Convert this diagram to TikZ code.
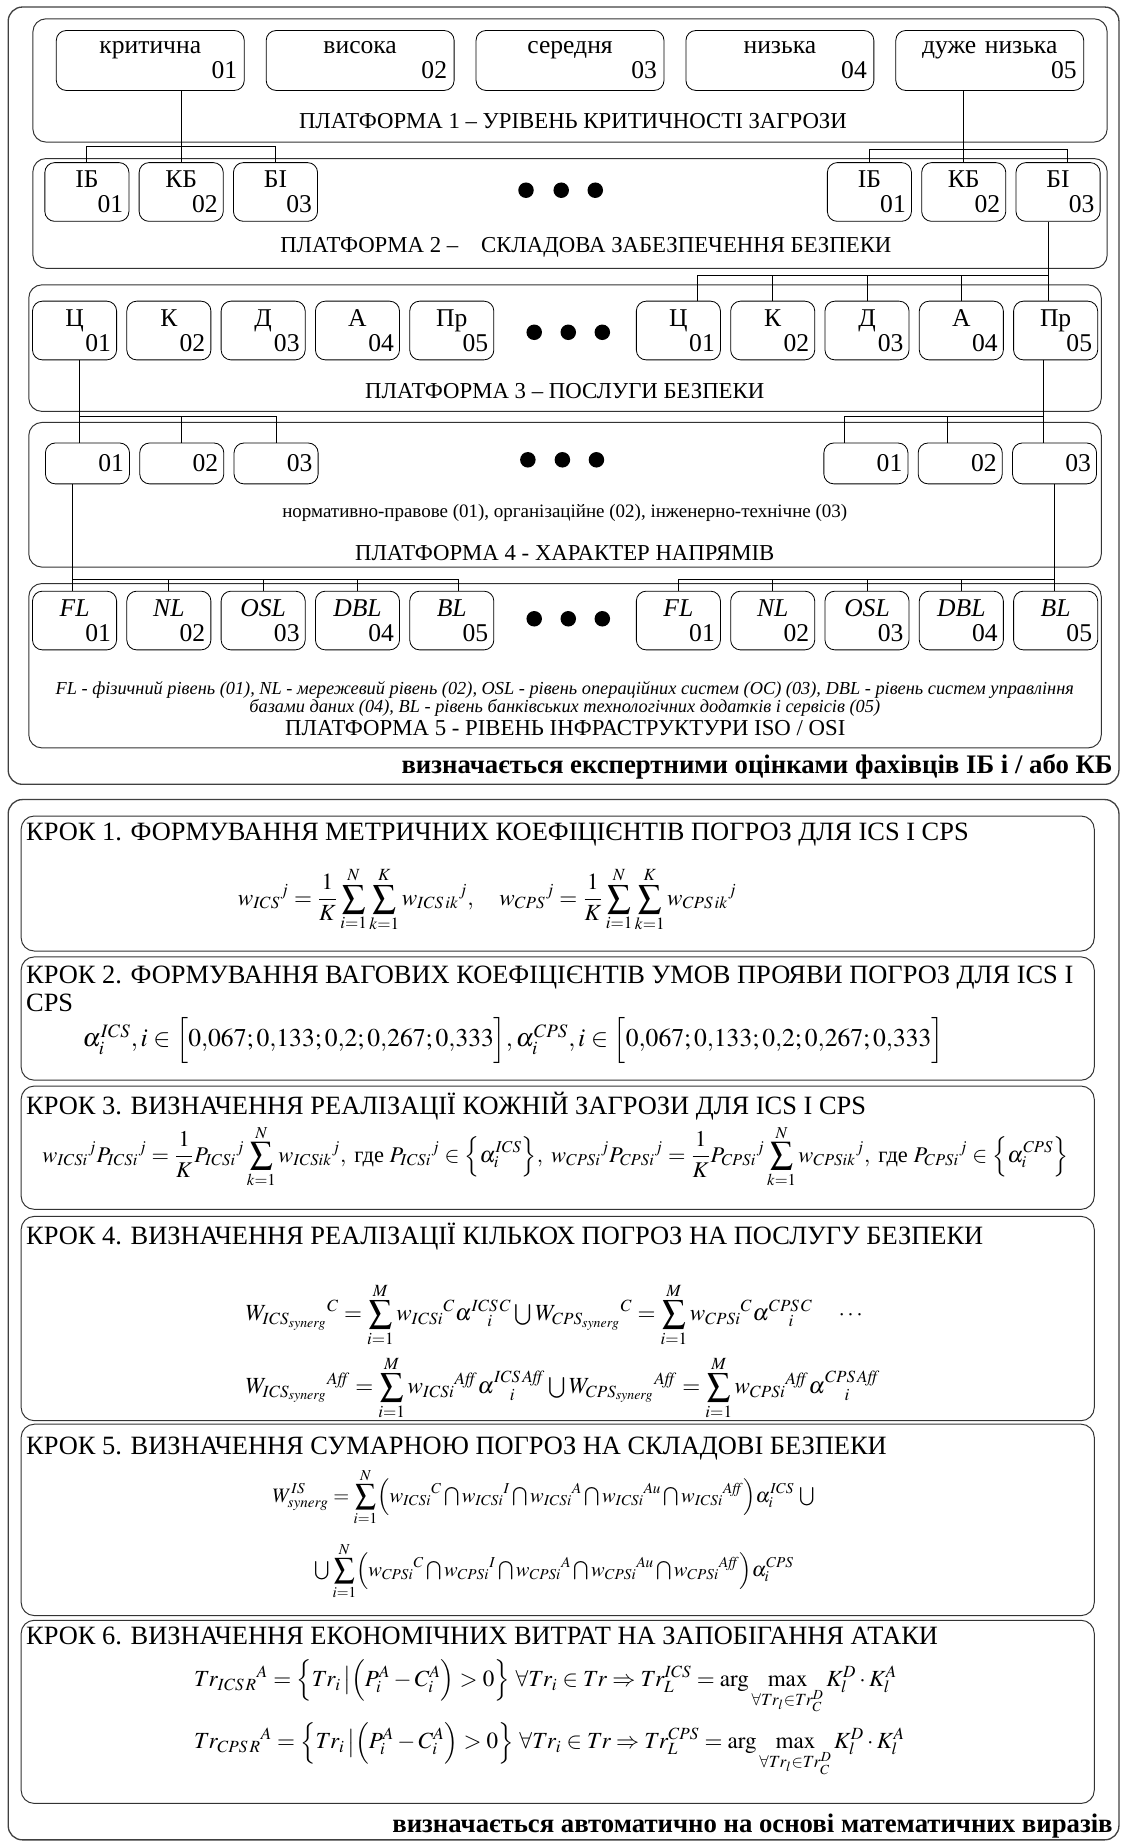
\documentclass[tikz,border=0pt]{standalone}
\usepackage{amsmath}
\usepackage{mathptmx}
\usepackage{fontspec}
\setmainfont{Liberation Serif}
\usepackage{graphicx}
\usetikzlibrary{positioning}

\newcommand{\twoline}[2]{{\centering #1\par}{\raggedleft #2\par}}
\newcommand{\Ucup}{\mathbin{\textstyle\bigcup}}
\newcommand{\Icap}{\mkern2mu{\textstyle\bigcap}\mkern2mu}
\newcommand{\Aff}{\mathit{Aff}}

\begin{document}
\begin{tikzpicture}[
    x=0.025cm, y=-0.025cm,
    every node/.style={font=\fontsize{15.5}{15}\selectfont, inner sep=0pt},
    outer/.style={draw=black!75, line width=0.8pt, rounded corners=0.3cm},
    plat/.style={draw=black!80, line width=0.6pt, rounded corners=0.28cm},
    stepbox/.style={draw=black!80, line width=0.6pt, rounded corners=0.28cm},
    lvl/.style={draw, rounded corners=0.21cm, line width=0.5pt, minimum width=4cm, minimum height=1.275cm, text width=3.7cm, inner xsep=0.15cm, inner ysep=0pt},
    cell/.style={lvl, minimum width=1.79cm, minimum height=1.25cm, text width=1.55cm, inner xsep=0.12cm},
    dirbox/.style={cell, minimum height=0.87cm},
    dot/.style={circle, fill, inner sep=0pt, minimum size=0.33cm},
    ptitle/.style={font=\fontsize{13.8}{15}\selectfont},
    note/.style={font=\fontsize{11.5}{13}\selectfont},
    verdict/.style={font=\fontsize{16.2}{18}\selectfont\bfseries, anchor=east},
    ktitle/.style={font=\fontsize{16}{17}\selectfont, anchor=west, align=left},
    formula/.style={font=\fontsize{14}{17}\selectfont},
    link/.style={line width=0.6pt},
]
\useasboundingbox (0,0) rectangle (956,1568);

% ---------- expert part ----------
\draw[outer] (7,6) rectangle (953,668);
\draw[plat] (28,16) rectangle (943,121);
\draw[plat] (28,135) rectangle (943,228.5);
\draw[plat] (24.5,242.6) rectangle (938,350.4);
\draw[plat] (24.5,359.8) rectangle (938,483);
\draw[plat] (24.5,497) rectangle (938,637);

% platform 1
\node[lvl] (lv1) at (128,51.5) {\twoline{критична}{01}};
\node[lvl, right=0.45cm of lv1] (lv2) {\twoline{висока}{02}};
\node[lvl, right=0.45cm of lv2] (lv3) {\twoline{середня}{03}};
\node[lvl, right=0.45cm of lv3] (lv4) {\twoline{низька}{04}};
\node[lvl, right=0.45cm of lv4] (lv5) {\twoline{дуже низька}{05}};
\node[ptitle] (p1lab) at (488,103) {ПЛАТФОРМА 1 – УРІВЕНЬ КРИТИЧНОСТІ ЗАГРОЗИ};

% platform 2
\node[cell] (ibl) at (74,163.5) {\twoline{ІБ}{01}};
\node[cell, right=0.2cm of ibl] (kbl) {\twoline{КБ}{02}};
\node[cell, right=0.2cm of kbl] (bil) {\twoline{БІ}{03}};
\node[cell] (ibr) at (740.5,163.5) {\twoline{ІБ}{01}};
\node[cell, right=0.2cm of ibr] (kbr) {\twoline{КБ}{02}};
\node[cell, right=0.2cm of kbr] (bir) {\twoline{БІ}{03}};
\node[dot] (dots2a) at (448,162) {};
\node[dot] (dots2b) at (478,162) {};
\node[dot] (dots2c) at (507,162) {};
\node[ptitle] (p2lab) at (499,211) {ПЛАТФОРМА 2 –\quad СКЛАДОВА ЗАБЕЗПЕЧЕННЯ БЕЗПЕКИ};

% platform 3
\node[cell] (cl) at (63.5,281.5) {\twoline{Ц}{01}};
\node[cell, right=0.2cm of cl] (kl) {\twoline{К}{02}};
\node[cell, right=0.2cm of kl] (dl) {\twoline{Д}{03}};
\node[cell, right=0.2cm of dl] (al) {\twoline{А}{04}};
\node[cell, right=0.2cm of al] (prl) {\twoline{Пр}{05}};
\node[cell] (cr) at (577.8,281.5) {\twoline{Ц}{01}};
\node[cell, right=0.2cm of cr] (kr) {\twoline{К}{02}};
\node[cell, right=0.2cm of kr] (dr) {\twoline{Д}{03}};
\node[cell, right=0.2cm of dr] (ar) {\twoline{А}{04}};
\node[cell, right=0.2cm of ar] (prr) {\twoline{Пр}{05}};
\node[dot] (dots3a) at (455,283) {};
\node[dot] (dots3b) at (484,283) {};
\node[dot] (dots3c) at (513,283) {};
\node[ptitle] (p3lab) at (481,333) {ПЛАТФОРМА 3 – ПОСЛУГИ БЕЗПЕКИ};

% platform 4
\node[dirbox] (nl1) at (74.5,394.7) {{\raggedleft 01\par}};
\node[dirbox, right=0.2cm of nl1] (nl2) {{\raggedleft 02\par}};
\node[dirbox, right=0.2cm of nl2] (nl3) {{\raggedleft 03\par}};
\node[dirbox] (nr1) at (737.5,394.7) {{\raggedleft 01\par}};
\node[dirbox, right=0.2cm of nr1] (nr2) {{\raggedleft 02\par}};
\node[dirbox, right=0.2cm of nr2] (nr3) {{\raggedleft 03\par}};
\node[dot] (dots4a) at (449.6,391.6) {};
\node[dot] (dots4b) at (479,391.6) {};
\node[dot] (dots4c) at (508,391.6) {};
\node[note] (p4note) at (481,437) {нормативно-правове (01), організаційне (02), інженерно-технічне (03)};
\node[ptitle] (p4lab) at (481,471) {ПЛАТФОРМА 4 - ХАРАКТЕР НАПРЯМІВ};

% platform 5
\node[cell] (fll) at (63.5,528.5) {\twoline{\itshape FL}{01}};
\node[cell, right=0.2cm of fll] (nll) {\twoline{\itshape NL}{02}};
\node[cell, right=0.2cm of nll] (osll) {\twoline{\itshape OSL}{03}};
\node[cell, right=0.2cm of osll] (dbll) {\twoline{\itshape DBL}{04}};
\node[cell, right=0.2cm of dbll] (bll) {\twoline{\itshape BL}{05}};
\node[cell] (flr) at (577.8,528.5) {\twoline{\itshape FL}{01}};
\node[cell, right=0.2cm of flr] (nlr) {\twoline{\itshape NL}{02}};
\node[cell, right=0.2cm of nlr] (oslr) {\twoline{\itshape OSL}{03}};
\node[cell, right=0.2cm of oslr] (dblr) {\twoline{\itshape DBL}{04}};
\node[cell, right=0.2cm of dblr] (blr) {\twoline{\itshape BL}{05}};
\node[dot] (dots5a) at (455,527) {};
\node[dot] (dots5b) at (484,527) {};
\node[dot] (dots5c) at (513,527) {};
\node[note, align=center, font=\fontsize{11.1}{10.7}\selectfont\itshape] (p5note) at (481,595.5)
    {FL - фізичний рівень (01), NL - мережевий рівень (02), OSL - рівень операційних систем (ОС) (03), DBL - рівень систем управління\\
     базами даних (04), BL - рівень банківських технологічних додатків і сервісів (05)};
\node[ptitle] (p5lab) at (481.5,620) {ПЛАТФОРМА 5 - РІВЕНЬ ІНФРАСТРУКТУРИ ISO / OSI};
\node[verdict] (expert) at (948,653) {визначається експертними оцінками фахівців ІБ і / або КБ};

% connectors
\coordinate (bar1) at (0,125);
\coordinate (bar2) at (0,127.7);
\coordinate (bar3) at (0,235);
\coordinate (bar4) at (0,354.7);
\coordinate (bar5) at (0,493.7);
\coordinate (birtop) at ([xshift=0.2cm]bir.north);
\coordinate (birbot) at ([xshift=-0.2cm]bir.south);
\coordinate (crtop) at ([xshift=0.4cm]cr.north);
\coordinate (clbot) at ([xshift=0.1cm]cl.south);
\coordinate (prrbot) at ([xshift=-0.25cm]prr.south);
\coordinate (nr1top) at ([xshift=-0.45cm]nr1.north);
\coordinate (nr2top) at ([xshift=-0.28cm]nr2.north);
\coordinate (nl1bot) at ([xshift=-0.32cm]nl1.south);
\coordinate (blltop) at ([xshift=0.15cm]bll.north);

\draw[link] (kbl.north) -- (kbl.north |- lv1.south);
\draw[link] (ibl.north) -- (ibl.north |- bar1) -- (bil.north |- bar1) -- (bil.north);
\draw[link] (kbr.north) -- (kbr.north |- lv5.south);
\draw[link] (ibr.north) -- (ibr.north |- bar2) -- (birtop |- bar2) -- (birtop);

\draw[link] (birbot) -- (birbot |- prr.north);
\draw[link] (crtop) -- (crtop |- bar3) -- (birbot |- bar3);
\draw[link] (kr.north) -- (kr.north |- bar3);
\draw[link] (dr.north) -- (dr.north |- bar3);
\draw[link] (ar.north) -- (ar.north |- bar3);

\draw[link] (clbot) -- (clbot |- nl1.north);
\draw[link] (clbot |- bar4) -- (nl3.north |- bar4) -- (nl3.north);
\draw[link] (nl2.north) -- (nl2.north |- bar4);
\draw[link] (prrbot) -- (prrbot |- nr3.north);
\draw[link] (nr1top) -- (nr1top |- bar4) -- (prrbot |- bar4);
\draw[link] (nr2top) -- (nr2top |- bar4);

\draw[link] (nl1bot) -- (nl1bot |- fll.north);
\draw[link] (nl1bot |- bar5) -- (blltop |- bar5) -- (blltop);
\draw[link] (nll.north) -- (nll.north |- bar5);
\draw[link] (osll.north) -- (osll.north |- bar5);
\draw[link] (dbll.north) -- (dbll.north |- bar5);
\draw[link] (nr3.south) -- (nr3.south |- blr.north);
\draw[link] (flr.north) -- (flr.north |- bar5) -- (nr3.south |- bar5);
\draw[link] (nlr.north) -- (nlr.north |- bar5);
\draw[link] (oslr.north) -- (oslr.north |- bar5);
\draw[link] (dblr.north) -- (dblr.north |- bar5);

% ---------- computed part ----------
\draw[outer] (7,681) rectangle (953,1567);
\draw[stepbox] (18,695) rectangle (932,810);
\draw[stepbox] (18,815) rectangle (932,920);
\draw[stepbox] (18,925) rectangle (932,1030);
\draw[stepbox] (18,1036) rectangle (932,1210);
\draw[stepbox] (18,1213) rectangle (932,1376);
\draw[stepbox] (18,1380) rectangle (932,1536);

\node[ktitle] (k1) at (22,711) {КРОК 1. ФОРМУВАННЯ МЕТРИЧНИХ КОЕФІЦІЄНТІВ ПОГРОЗ ДЛЯ ICS І CPS};
\node[formula] (f1) at (415,766) {$\displaystyle {w_{ICS}}^{j} = \frac{1}{K}\sum_{i=1}^{N}\sum_{k=1}^{K}{w_{ICS\,ik}}^{j},\quad {w_{CPS}}^{j} = \frac{1}{K}\sum_{i=1}^{N}\sum_{k=1}^{K}{w_{CPS\,ik}}^{j}$};

\node[ktitle] (k2) at (22,842.5) {КРОК 2. ФОРМУВАННЯ ВАГОВИХ КОЕФІЦІЄНТІВ УМОВ ПРОЯВИ ПОГРОЗ ДЛЯ ICS І\\CPS};
\node[formula, font=\fontsize{15.5}{17}\selectfont] (f2) at (437,886) {$\alpha_i^{ICS}, i\in\Bigl[0{,}067;0{,}133;0{,}2;0{,}267;0{,}333\Bigr], \alpha_i^{CPS}, i\in\Bigl[0{,}067;0{,}133;0{,}2;0{,}267;0{,}333\Bigr]$};

\node[ktitle] (k3) at (22,942) {КРОК 3. ВИЗНАЧЕННЯ РЕАЛІЗАЦІЇ КОЖНІЙ ЗАГРОЗИ ДЛЯ ICS І CPS};
\node[formula, font=\fontsize{13.6}{17}\selectfont] (f3) at (473,985) {$\displaystyle {w_{ICSi}}^{j}{P_{ICSi}}^{j} = \frac{1}{K}{P_{ICSi}}^{j}\sum_{k=1}^{N}{w_{ICSik}}^{j},\ \text{где } {P_{ICSi}}^{j}\in\Bigl\{\alpha_i^{ICS}\Bigr\},\ {w_{CPSi}}^{j}{P_{CPSi}}^{j} = \frac{1}{K}{P_{CPSi}}^{j}\sum_{k=1}^{N}{w_{CPSik}}^{j},\ \text{где } {P_{CPSi}}^{j}\in\Bigl\{\alpha_i^{CPS}\Bigr\}$};

\node[ktitle] (k4) at (22,1053) {КРОК 4. ВИЗНАЧЕННЯ РЕАЛІЗАЦІЇ КІЛЬКОХ ПОГРОЗ НА ПОСЛУГУ БЕЗПЕКИ};
\node[formula, anchor=west] (f4a) at (209,1120) {$\displaystyle {W_{ICS_{synerg}}}^{C} = \sum_{i=1}^{M}{w_{ICSi}}^{C}\alpha^{ICS\,C}_{\phantom{IC}i}\Ucup{W_{CPS_{synerg}}}^{C} = \sum_{i=1}^{M}{w_{CPSi}}^{C}\alpha^{CPS\,C}_{\phantom{CP}i}\quad\cdots$};
\node[formula, anchor=west] (f4b) at (209,1182) {$\displaystyle {W_{ICS_{synerg}}}^{\Aff} = \sum_{i=1}^{M}{w_{ICSi}}^{\Aff}\alpha^{ICS\,\Aff}_{\phantom{IC}i}\Ucup{W_{CPS_{synerg}}}^{\Aff} = \sum_{i=1}^{M}{w_{CPSi}}^{\Aff}\alpha^{CPS\,\Aff}_{\phantom{CP}i}$};

\node[ktitle] (k5) at (22,1234) {КРОК 5. ВИЗНАЧЕННЯ СУМАРНОЮ ПОГРОЗ НА СКЛАДОВІ БЕЗПЕКИ};
\node[formula, anchor=west, font=\fontsize{12.4}{17}\selectfont] (f5a) at (232,1275) {$\displaystyle W^{IS}_{synerg} = \sum_{i=1}^{N}\Bigl({w_{ICSi}}^{C}\Icap{w_{ICSi}}^{I}\Icap{w_{ICSi}}^{A}\Icap{w_{ICSi}}^{Au}\Icap{w_{ICSi}}^{\Aff}\Bigr)\alpha_i^{ICS}\ {\textstyle\bigcup}$};
\node[formula, anchor=west, font=\fontsize{12.4}{17}\selectfont] (f5b) at (268,1338) {$\displaystyle {\textstyle\bigcup}\sum_{i=1}^{N}\Bigl({w_{CPSi}}^{C}\Icap{w_{CPSi}}^{I}\Icap{w_{CPSi}}^{A}\Icap{w_{CPSi}}^{Au}\Icap{w_{CPSi}}^{\Aff}\Bigr)\alpha_i^{CPS}$};

\node[ktitle] (k6) at (22,1393) {КРОК 6. ВИЗНАЧЕННЯ ЕКОНОМІЧНИХ ВИТРАТ НА ЗАПОБІГАННЯ АТАКИ};
\node[formula, anchor=west] (f6a) at (165,1437) {$\displaystyle {Tr_{ICS\,R}}^{A} = \Bigl\{Tr_i\,\big|\Bigl(P_i^A - C_i^A\Bigr) > 0\Bigr\}\ \forall Tr_i\in Tr\Rightarrow Tr_L^{ICS} = \arg\max_{\forall Tr_l\in Tr_C^D}K_l^D\cdot K_l^A$};
\node[formula, anchor=west] (f6b) at (165,1490) {$\displaystyle {Tr_{CPS\,R}}^{A} = \Bigl\{Tr_i\,\big|\Bigl(P_i^A - C_i^A\Bigr) > 0\Bigr\}\ \forall Tr_i\in Tr\Rightarrow Tr_L^{CPS} = \arg\max_{\forall Tr_l\in Tr_C^D}K_l^D\cdot K_l^A$};

\node[verdict] (auto) at (948,1555) {визначається автоматично на основі математичних виразів};
\end{tikzpicture}
\end{document}
